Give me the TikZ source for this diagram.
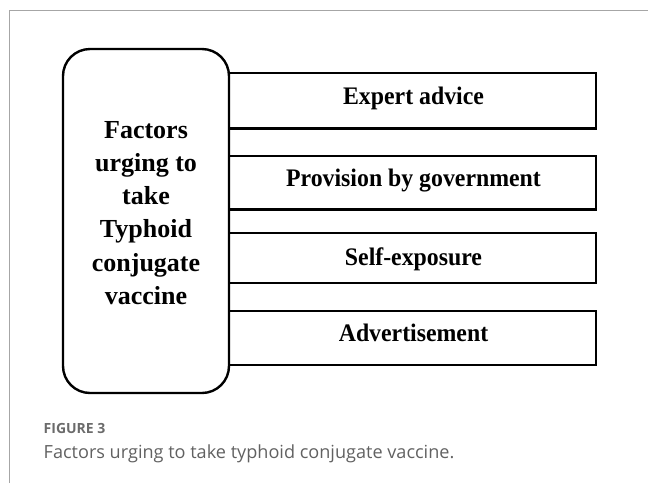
\documentclass[tikz,border=0pt]{standalone}
\usepackage{graphicx}
\usepackage{fontspec}
\setmainfont{Liberation Serif}
\newfontfamily\capfont{Open Sans}
% bold box labels are drawn slightly taller than wide
\newcommand\tallbold[1]{\scalebox{1}[1.06]{#1}}
\begin{document}
\begin{tikzpicture}[x=1pt,y=-1pt,
  frameline/.style={draw=black!35,line width=1.2pt},
  factorbox/.style={draw,line width=2.4pt,rounded corners=27pt,inner sep=0pt},
  itembox/.style={draw,line width=2.4pt,inner sep=0pt},
  maintext/.style={font=\fontsize{26}{33.2}\selectfont\bfseries,align=center,inner sep=0pt},
  boxtext/.style={font=\fontsize{23.8}{29}\selectfont\bfseries,anchor=base,inner sep=0pt},
  captitle/.style={font=\capfont\fontsize{14}{16}\selectfont\bfseries,text=black!58,anchor=base west,inner sep=0pt},
  captext/.style={font=\capfont\fontsize{18.1}{21}\selectfont,text=black!62,anchor=base west,inner sep=0pt}]
\useasboundingbox (0,0) rectangle (648,483);
% page frame
\draw[frameline] (9.5,483) -- (9.5,10.7) -- (648,10.7);
% central rounded box
\draw[factorbox] (63,49) rectangle (229,393);
\node[maintext] (main) at (146,213) {Factors\\urging to\\take\\Typhoid\\conjugate\\vaccine};
% factor boxes
\draw[itembox] (229,72.7) rectangle (596,128.5);
\node[boxtext] (f1) at (413.5,104) {\tallbold{Expert advice}};
\draw[itembox] (229,156) rectangle (596,209.5);
\node[boxtext] (f2) at (413.5,186.7) {\tallbold{Provision by government}};
\draw[itembox] (229,232.7) rectangle (596,282.7);
\node[boxtext] (f3) at (413.5,265) {\tallbold{Self-exposure}};
\draw[itembox] (229,311) rectangle (596,365);
\node[boxtext] (f4) at (413.5,341.7) {\tallbold{Advertisement}};
% caption
\node[captitle] (figno) at (43.5,433) {FIGURE 3};
\node[captext] (cap) at (43.5,458) {Factors urging to take typhoid conjugate vaccine.};
\end{tikzpicture}
\end{document}
